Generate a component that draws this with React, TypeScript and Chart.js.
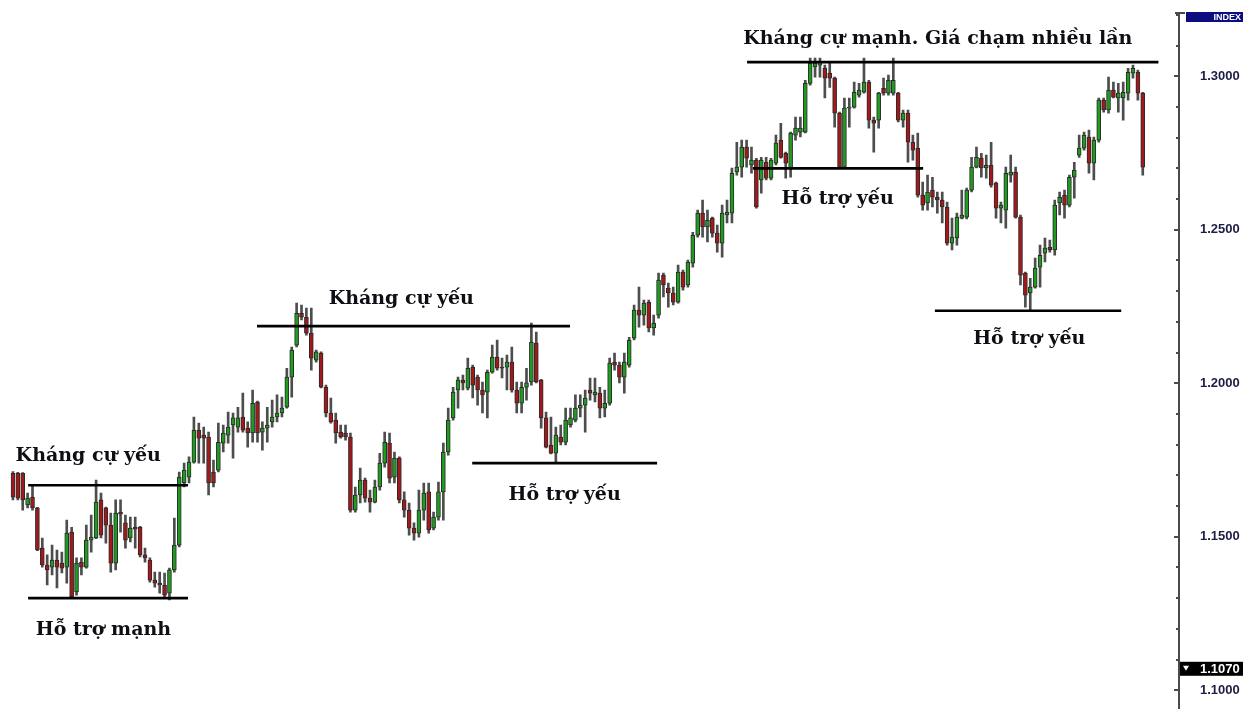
import React, { useEffect, useRef } from "react";
import { Chart, registerables } from "chart.js";

Chart.register(...registerables);

// Candles (price), one per bar slot, left to right
const OPEN = [
  1.1707, 1.1707, 1.1707, 1.1604, 1.1629, 1.1594, 1.1463, 1.1408, 1.1401, 1.1424,
  1.1414, 1.1401, 1.1515, 1.1320, 1.1417, 1.1401, 1.1489, 1.1496, 1.1620, 1.1594,
  1.1538, 1.1414, 1.1580, 1.1545, 1.1496, 1.1531, 1.1531, 1.1441, 1.1424, 1.1359,
  1.1349, 1.1343, 1.1316, 1.1392, 1.1473, 1.1675, 1.1694, 1.1743, 1.1847, 1.1831,
  1.1825, 1.1711, 1.1717, 1.1805, 1.1831, 1.1864, 1.1857, 1.1890, 1.1854, 1.1838,
  1.1939, 1.1841, 1.1854, 1.1874, 1.1890, 1.1903, 1.1922, 1.2020, 1.2124, 1.2228,
  1.2215, 1.2163, 1.2075, 1.2098, 1.1987, 1.1903, 1.1880, 1.1841, 1.1838, 1.1825,
  1.1587, 1.1636, 1.1685, 1.1626, 1.1613, 1.1662, 1.1740, 1.1805, 1.1694, 1.1756,
  1.1620, 1.1587, 1.1528, 1.1512, 1.1587, 1.1646, 1.1528, 1.1564, 1.1646, 1.1776,
  1.1887, 1.1978, 1.2010, 1.1984, 1.2052, 1.2020, 1.1978, 1.1971, 1.2036, 1.2085,
  1.2052, 1.2052, 1.2069, 1.1978, 1.1935, 1.1987, 1.2004, 1.2131, 1.2010, 1.1887,
  1.1799, 1.1772, 1.1825, 1.1808, 1.1864, 1.1880, 1.1919, 1.1929, 1.1978, 1.1962,
  1.1968, 1.1919, 1.1935, 1.2069, 1.2059, 1.2020, 1.2059, 1.2147, 1.2238, 1.2222,
  1.2264, 1.2180, 1.2222, 1.2352, 1.2310, 1.2294, 1.2264, 1.2362, 1.2320, 1.2391,
  1.2482, 1.2554, 1.2509, 1.2538, 1.2489, 1.2456, 1.2548, 1.2554, 1.2688, 1.2704,
  1.2769, 1.2711, 1.2727, 1.2662, 1.2720, 1.2668, 1.2717, 1.2792, 1.2749, 1.2701,
  1.2808, 1.2818, 1.2818, 1.2977, 1.3030, 1.3036, 1.3026, 1.3010, 1.2994, 1.2880,
  1.2704, 1.2896, 1.2899, 1.2938, 1.2948, 1.2981, 1.2857, 1.2857, 1.2961, 1.2945,
  1.2945, 1.2945, 1.2857, 1.2880, 1.2785, 1.2766, 1.2613, 1.2587, 1.2629, 1.2606,
  1.2597, 1.2574, 1.2456, 1.2473, 1.2538, 1.2541, 1.2629, 1.2704, 1.2733, 1.2701,
  1.2710, 1.2652, 1.2570, 1.2564, 1.2678, 1.2688, 1.2541, 1.2359, 1.2294, 1.2313,
  1.2378, 1.2424, 1.2443, 1.2434, 1.2587, 1.2613, 1.2580, 1.2671, 1.2743, 1.2766,
  1.2802, 1.2717, 1.2792, 1.2922, 1.2890, 1.2955, 1.2929, 1.2929, 1.2945, 1.3010,
  1.3013, 1.2945,
];

const HIGH = [
  1.1712, 1.1710, 1.1709, 1.1642, 1.1669, 1.1596, 1.1496, 1.1441, 1.1473, 1.1457,
  1.1450, 1.1554, 1.1531, 1.1431, 1.1431, 1.1538, 1.1571, 1.1685, 1.1642, 1.1597,
  1.1577, 1.1620, 1.1620, 1.1571, 1.1564, 1.1564, 1.1534, 1.1463, 1.1431, 1.1385,
  1.1385, 1.1382, 1.1398, 1.1561, 1.1711, 1.1740, 1.1760, 1.1890, 1.1870, 1.1857,
  1.1841, 1.1750, 1.1870, 1.1864, 1.1906, 1.1903, 1.1922, 1.1968, 1.1874, 1.1978,
  1.1942, 1.1874, 1.1922, 1.1945, 1.1962, 1.1955, 1.2049, 1.2118, 1.2261, 1.2255,
  1.2245, 1.2245, 1.2108, 1.2102, 1.1994, 1.1952, 1.1903, 1.1864, 1.1864, 1.1838,
  1.1662, 1.1724, 1.1691, 1.1652, 1.1685, 1.1772, 1.1841, 1.1838, 1.1776, 1.1760,
  1.1646, 1.1610, 1.1545, 1.1652, 1.1675, 1.1675, 1.1580, 1.1678, 1.1805, 1.1919,
  1.1987, 1.2020, 1.2027, 1.2082, 1.2059, 1.2027, 1.2004, 1.2043, 1.2124, 1.2141,
  1.2082, 1.2092, 1.2118, 1.2004, 1.2004, 1.2049, 1.2196, 1.2167, 1.2013, 1.1906,
  1.1890, 1.1857, 1.1864, 1.1919, 1.1919, 1.1962, 1.1962, 1.1978, 1.2017, 1.2017,
  1.1987, 1.1978, 1.2082, 1.2098, 1.2069, 1.2098, 1.2150, 1.2255, 1.2313, 1.2271,
  1.2271, 1.2222, 1.2359, 1.2359, 1.2326, 1.2313, 1.2385, 1.2369, 1.2401, 1.2492,
  1.2564, 1.2597, 1.2564, 1.2541, 1.2515, 1.2580, 1.2597, 1.2701, 1.2785, 1.2792,
  1.2792, 1.2769, 1.2733, 1.2736, 1.2736, 1.2733, 1.2808, 1.2847, 1.2753, 1.2818,
  1.2867, 1.2867, 1.2987, 1.3059, 1.3059, 1.3059, 1.3036, 1.3043, 1.2997, 1.2883,
  1.2929, 1.2929, 1.2981, 1.2977, 1.3059, 1.2987, 1.2867, 1.2948, 1.2994, 1.3004,
  1.3059, 1.2948, 1.2890, 1.2890, 1.2808, 1.2815, 1.2655, 1.2678, 1.2671, 1.2623,
  1.2623, 1.2590, 1.2538, 1.2554, 1.2629, 1.2636, 1.2736, 1.2769, 1.2749, 1.2743,
  1.2785, 1.2655, 1.2590, 1.2704, 1.2743, 1.2704, 1.2548, 1.2362, 1.2342, 1.2408,
  1.2450, 1.2473, 1.2466, 1.2597, 1.2623, 1.2629, 1.2678, 1.2720, 1.2808, 1.2818,
  1.2825, 1.2802, 1.2929, 1.2929, 1.2997, 1.2981, 1.2977, 1.2981, 1.3026, 1.3036,
  1.3020, 1.2948,
];

const LOW = [
  1.1620, 1.1620, 1.1587, 1.1594, 1.1587, 1.1455, 1.1401, 1.1343, 1.1376, 1.1333,
  1.1382, 1.1349, 1.1300, 1.1310, 1.1376, 1.1398, 1.1450, 1.1494, 1.1496, 1.1479,
  1.1385, 1.1392, 1.1515, 1.1463, 1.1483, 1.1463, 1.1434, 1.1417, 1.1352, 1.1336,
  1.1316, 1.1300, 1.1294, 1.1385, 1.1467, 1.1662, 1.1675, 1.1740, 1.1740, 1.1740,
  1.1636, 1.1662, 1.1711, 1.1776, 1.1805, 1.1756, 1.1841, 1.1841, 1.1792, 1.1808,
  1.1808, 1.1782, 1.1808, 1.1857, 1.1874, 1.1890, 1.1919, 1.1955, 1.2118, 1.2206,
  1.2157, 1.2043, 1.2069, 1.1985, 1.1890, 1.1870, 1.1805, 1.1821, 1.1815, 1.1580,
  1.1580, 1.1610, 1.1613, 1.1580, 1.1610, 1.1652, 1.1727, 1.1675, 1.1675, 1.1610,
  1.1564, 1.1505, 1.1489, 1.1499, 1.1554, 1.1512, 1.1522, 1.1554, 1.1554, 1.1766,
  1.1880, 1.1919, 1.1978, 1.1978, 1.1952, 1.1929, 1.1903, 1.1887, 1.2033, 1.2043,
  1.2017, 1.1978, 1.1971, 1.1903, 1.1903, 1.1945, 1.1994, 1.2001, 1.1854, 1.1789,
  1.1770, 1.1743, 1.1799, 1.1799, 1.1857, 1.1874, 1.1890, 1.1841, 1.1945, 1.1939,
  1.1887, 1.1890, 1.1929, 1.2043, 1.2001, 1.1968, 1.2052, 1.2141, 1.2183, 1.2189,
  1.2167, 1.2157, 1.2212, 1.2281, 1.2248, 1.2255, 1.2261, 1.2303, 1.2313, 1.2378,
  1.2476, 1.2476, 1.2460, 1.2476, 1.2427, 1.2411, 1.2522, 1.2522, 1.2678, 1.2671,
  1.2704, 1.2684, 1.2570, 1.2619, 1.2662, 1.2662, 1.2711, 1.2733, 1.2668, 1.2671,
  1.2792, 1.2802, 1.2815, 1.2971, 1.2997, 1.2997, 1.2929, 1.2964, 1.2834, 1.2701,
  1.2701, 1.2834, 1.2896, 1.2932, 1.2945, 1.2831, 1.2753, 1.2831, 1.2938, 1.2938,
  1.2938, 1.2851, 1.2834, 1.2720, 1.2727, 1.2606, 1.2564, 1.2564, 1.2574, 1.2554,
  1.2522, 1.2450, 1.2434, 1.2450, 1.2535, 1.2535, 1.2623, 1.2701, 1.2671, 1.2668,
  1.2639, 1.2538, 1.2522, 1.2505, 1.2655, 1.2538, 1.2320, 1.2248, 1.2238, 1.2310,
  1.2313, 1.2395, 1.2427, 1.2417, 1.2548, 1.2538, 1.2574, 1.2603, 1.2736, 1.2759,
  1.2684, 1.2662, 1.2785, 1.2883, 1.2880, 1.2929, 1.2883, 1.2857, 1.2922, 1.2994,
  1.2922, 1.2678,
];

const CLOSE = [
  1.1629, 1.1626, 1.1620, 1.1626, 1.1594, 1.1457, 1.1408, 1.1392, 1.1424, 1.1401,
  1.1398, 1.1512, 1.1304, 1.1414, 1.1401, 1.1489, 1.1499, 1.1613, 1.1505, 1.1538,
  1.1414, 1.1577, 1.1574, 1.1489, 1.1528, 1.1525, 1.1441, 1.1431, 1.1359, 1.1349,
  1.1343, 1.1310, 1.1392, 1.1473, 1.1694, 1.1717, 1.1743, 1.1847, 1.1821, 1.1821,
  1.1675, 1.1675, 1.1808, 1.1838, 1.1857, 1.1887, 1.1887, 1.1847, 1.1838, 1.1935,
  1.1838, 1.1854, 1.1864, 1.1890, 1.1903, 1.1919, 1.2020, 1.2108, 1.2228, 1.2215,
  1.2163, 1.2082, 1.2102, 1.1987, 1.1903, 1.1874, 1.1838, 1.1825, 1.1825, 1.1587,
  1.1636, 1.1685, 1.1626, 1.1613, 1.1662, 1.1740, 1.1808, 1.1691, 1.1756, 1.1620,
  1.1587, 1.1528, 1.1512, 1.1587, 1.1642, 1.1522, 1.1564, 1.1646, 1.1776, 1.1880,
  1.1971, 1.2010, 1.2001, 1.2049, 1.1994, 1.1978, 1.1962, 1.2036, 1.2085, 1.2049,
  1.2049, 1.2069, 1.1978, 1.1935, 1.1987, 1.2001, 1.2134, 1.2004, 1.1887, 1.1792,
  1.1772, 1.1831, 1.1808, 1.1880, 1.1887, 1.1919, 1.1929, 1.1952, 1.1968, 1.1971,
  1.1919, 1.1935, 1.2066, 1.2059, 1.2020, 1.2069, 1.2141, 1.2238, 1.2222, 1.2261,
  1.2180, 1.2196, 1.2336, 1.2320, 1.2294, 1.2264, 1.2362, 1.2313, 1.2395, 1.2482,
  1.2554, 1.2509, 1.2531, 1.2489, 1.2456, 1.2554, 1.2557, 1.2684, 1.2704, 1.2769,
  1.2733, 1.2727, 1.2574, 1.2727, 1.2668, 1.2727, 1.2782, 1.2736, 1.2717, 1.2815,
  1.2831, 1.2831, 1.2977, 1.3043, 1.3043, 1.3046, 1.2994, 1.2994, 1.2880, 1.2704,
  1.2896, 1.2899, 1.2948, 1.2955, 1.2981, 1.2857, 1.2847, 1.2945, 1.2945, 1.2987,
  1.2987, 1.2857, 1.2880, 1.2785, 1.2759, 1.2613, 1.2580, 1.2623, 1.2606, 1.2597,
  1.2574, 1.2456, 1.2476, 1.2541, 1.2548, 1.2629, 1.2704, 1.2736, 1.2701, 1.2710,
  1.2645, 1.2570, 1.2580, 1.2684, 1.2688, 1.2541, 1.2352, 1.2287, 1.2313, 1.2375,
  1.2417, 1.2440, 1.2434, 1.2580, 1.2606, 1.2580, 1.2671, 1.2694, 1.2766, 1.2808,
  1.2717, 1.2792, 1.2922, 1.2890, 1.2955, 1.2932, 1.2945, 1.2948, 1.3013, 1.3026,
  1.2945, 1.2704,
];

// Support / resistance levels: price, first bar slot, last bar slot
const LEVEL_PRICE = [1.1668, 1.13, 1.2186, 1.174, 1.3046, 1.27, 1.2236];
const LEVEL_FROM = [3.1, 3.1, 49.9, 93.9, 150.1, 151.3, 188.5];
const LEVEL_TO = [35.8, 35.8, 113.9, 131.7, 234.2, 186.1, 226.6];

// Annotation texts, anchored at (bar slot, price)
const NOTE_TEXT = [
  "Kháng cự yếu",
  "Hỗ trợ mạnh",
  "Kháng cự yếu",
  "Hỗ trợ yếu",
  "Kháng cự mạnh. Giá chạm nhiều lần",
  "Hỗ trợ yếu",
  "Hỗ trợ yếu",
];
const NOTE_SLOT = [15.4, 18.5, 79.4, 112.8, 189.1, 168.6, 207.8];
const NOTE_PRICE = [1.1746, 1.118, 1.2258, 1.162, 1.3105, 1.2584, 1.2128];

// Axis
const AXIS_LABELS = [1.1, 1.15, 1.2, 1.25, 1.3];
const AXIS_MINOR_FROM = 1.1;
const AXIS_MINOR_TO = 1.32;
const CURRENT_PRICE = 1.107;
const Y_MIN = 1.0939;
const Y_MAX = 1.3206;
const SLOT_MAX = 238;

const GREEN = "#1f9c1f";
const RED = "#a3191b";

const overlayPlugin = {
  id: "overlay",
  afterDraw(chart: any) {
    const ctx = chart.ctx as CanvasRenderingContext2D;
    const xs = chart.scales.x;
    const ys = chart.scales.y;
    const area = chart.chartArea;
    ctx.save();

    // annotation texts
    ctx.font = 'bold 19px "DejaVu Serif", serif';
    ctx.fillStyle = "#0e0e14";
    ctx.textAlign = "center";
    ctx.textBaseline = "alphabetic";
    NOTE_TEXT.forEach((t, i) => {
      ctx.fillText(t, xs.getPixelForValue(NOTE_SLOT[i]), ys.getPixelForValue(NOTE_PRICE[i]));
    });

    // price axis line and ticks
    const ax = area.right + 2;
    ctx.fillStyle = "#4a4a4a";
    ctx.fillRect(ax - 1, area.top - 1, 2, area.bottom - area.top + 1);
    ctx.fillRect(ax - 4, area.top - 1, 10, 2);
    const n = Math.round((AXIS_MINOR_TO - AXIS_MINOR_FROM) * 100);
    for (let k = 0; k <= n; k++) {
      const v = AXIS_MINOR_FROM + k / 100;
      const py = Math.round(ys.getPixelForValue(v));
      if (py < area.top || py > area.bottom) continue;
      const major = k % 5 === 0;
      const len = major ? 5 : 3;
      ctx.fillRect(ax - len, py - 1, len, 2);
    }

    // INDEX badge
    ctx.fillStyle = "#0d0d82";
    ctx.fillRect(ax + 7, area.top - 1, 57, 10);
    ctx.fillStyle = "#ffffff";
    ctx.font = 'bold 9px "Liberation Sans", Arial, sans-serif';
    ctx.textAlign = "right";
    ctx.textBaseline = "middle";
    ctx.fillText("INDEX", ax + 62, area.top + 4.5);

    // current price marker
    const cp = ys.getPixelForValue(CURRENT_PRICE);
    ctx.fillStyle = "#000000";
    ctx.fillRect(ax + 1, cp - 7, 63, 14);
    ctx.fillStyle = "#ffffff";
    ctx.beginPath();
    ctx.moveTo(ax + 4, cp - 3);
    ctx.lineTo(ax + 10, cp - 3);
    ctx.lineTo(ax + 7, cp + 2);
    ctx.closePath();
    ctx.fill();
    ctx.font = 'bold 13px "Liberation Sans", Arial, sans-serif';
    ctx.textAlign = "left";
    ctx.textBaseline = "middle";
    ctx.fillText(CURRENT_PRICE.toFixed(4), area.right + 23, cp + 0.5);

    ctx.restore();
  },
};

export default function App() {
  const canvasRef = useRef<HTMLCanvasElement | null>(null);

  useEffect(() => {
    const canvas = canvasRef.current;
    if (!canvas) return;

    const wicks = OPEN.map((_, i) => ({ x: i, y: [LOW[i], HIGH[i]] }));
    const bodies = OPEN.map((o, i) => ({ x: i, y: [o, CLOSE[i]] }));
    const bodyColors = OPEN.map((o, i) => (CLOSE[i] >= o ? GREEN : RED));

    const levelSets = LEVEL_PRICE.map((p, i) => ({
      type: "line" as const,
      data: [
        { x: LEVEL_FROM[i], y: p },
        { x: LEVEL_TO[i], y: p },
      ],
      borderColor: "#000000",
      borderWidth: 2.6,
      pointRadius: 0,
      fill: false,
      order: -1,
    }));

    const chart = new Chart(canvas, {
      type: "bar",
      data: {
        datasets: [
          {
            type: "bar",
            data: wicks as any,
            backgroundColor: "#4d4d4d",
            borderWidth: 0,
            barThickness: 2,
            grouped: false,
            order: 2,
          } as any,
          {
            type: "bar",
            data: bodies as any,
            backgroundColor: bodyColors,
            borderColor: "#2a2a2a",
            borderWidth: 1,
            borderSkipped: false,
            barThickness: 4,
            grouped: false,
            order: 1,
          } as any,
          ...(levelSets as any[]),
        ],
      },
      options: {
        animation: false,
        responsive: false,
        maintainAspectRatio: false,
        events: [],
        layout: { padding: { left: 10.5, right: 0, top: 13, bottom: 0 } },
        plugins: {
          legend: { display: false },
          tooltip: { enabled: false },
        },
        scales: {
          x: {
            type: "linear",
            min: -0.5,
            max: SLOT_MAX,
            offset: false,
            display: false,
          },
          y: {
            type: "linear",
            position: "right",
            min: Y_MIN,
            max: Y_MAX,
            grid: { display: false, drawTicks: false },
            border: { display: false },
            afterFit: (s: any) => {
              s.width = 78;
              s.paddingTop = 0;
              s.paddingBottom = 0;
            },
            afterBuildTicks: (s: any) => {
              s.ticks = AXIS_LABELS.map((v) => ({ value: v }));
            },
            ticks: {
              autoSkip: false,
              padding: 23,
              color: "#1c1c44",
              font: { family: '"Liberation Sans", Arial, sans-serif', size: 13, weight: "bold" },
              callback: (v: any) => Number(v).toFixed(4),
            },
          },
        },
      } as any,
      plugins: [overlayPlugin],
    });

    return () => chart.destroy();
  }, []);

  return (
    <div style={{ position: "fixed", left: 0, top: 0, width: 1255, height: 709, background: "#ffffff" }}>
      <canvas ref={canvasRef} width={1255} height={709} style={{ display: "block", width: 1255, height: 709 }} />
    </div>
  );
}
